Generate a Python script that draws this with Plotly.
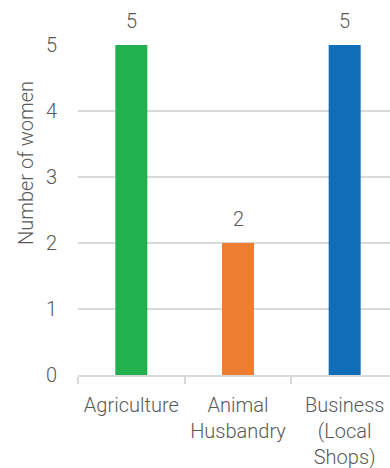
import plotly.graph_objects as go

categories = ["Agriculture", "Animal<br>Husbandry", "Business<br>(Local<br>Shops)"]
values = [5, 2, 5]
colors = ["#21B14F", "#ED7D31", "#106EB8"]
y_ticks = [0, 1, 2, 3, 4, 5]
y_title = "Number of women"

FONT = "Roboto"
TXT = "#595959"
FS = 20

fig = go.Figure()
fig.add_trace(go.Bar(
    x=categories, y=values,
    marker=dict(color=colors, line=dict(width=0)),
    width=0.3,
    cliponaxis=False,
))

for c, v in zip(categories, values):
    fig.add_annotation(
        x=c, y=v, text=str(v), showarrow=False,
        yanchor="bottom", yshift=10,
        font=dict(family=FONT, size=FS, color=TXT, weight=300),
    )

fig.add_annotation(
    xref="paper", yref="paper", x=-0.167, y=0.642,
    text=y_title, textangle=-90, showarrow=False,
    xanchor="center", yanchor="middle",
    font=dict(family=FONT, size=FS, color=TXT, weight=300),
)

fig.update_layout(
    width=390, height=468,
    margin=dict(l=78, r=0, t=45, b=93),
    paper_bgcolor="white", plot_bgcolor="white",
    showlegend=False,
    font=dict(family=FONT, size=FS, color=TXT, weight=300),
)
fig.update_xaxes(
    range=[-0.5, 2.425],
    showgrid=False,
    showline=True, linecolor="#D9D9D9", linewidth=1.5,
    ticks="outside", tickson="boundaries", ticklen=7, tickcolor="#D9D9D9", tickwidth=1.5,
    ticklabelstandoff=11,
    tickfont=dict(family=FONT, size=FS, color=TXT, weight=300),
    fixedrange=True,
)
fig.update_yaxes(
    range=[0, 5],
    tickvals=y_ticks,
    showgrid=True, gridcolor="#D9D9D9", gridwidth=1.5,
    zeroline=False, showline=False,
    ticks="", ticklabelstandoff=20,
    tickfont=dict(family=FONT, size=FS, color=TXT, weight=300),
    fixedrange=True,
)

fig.write_html("out.html")
